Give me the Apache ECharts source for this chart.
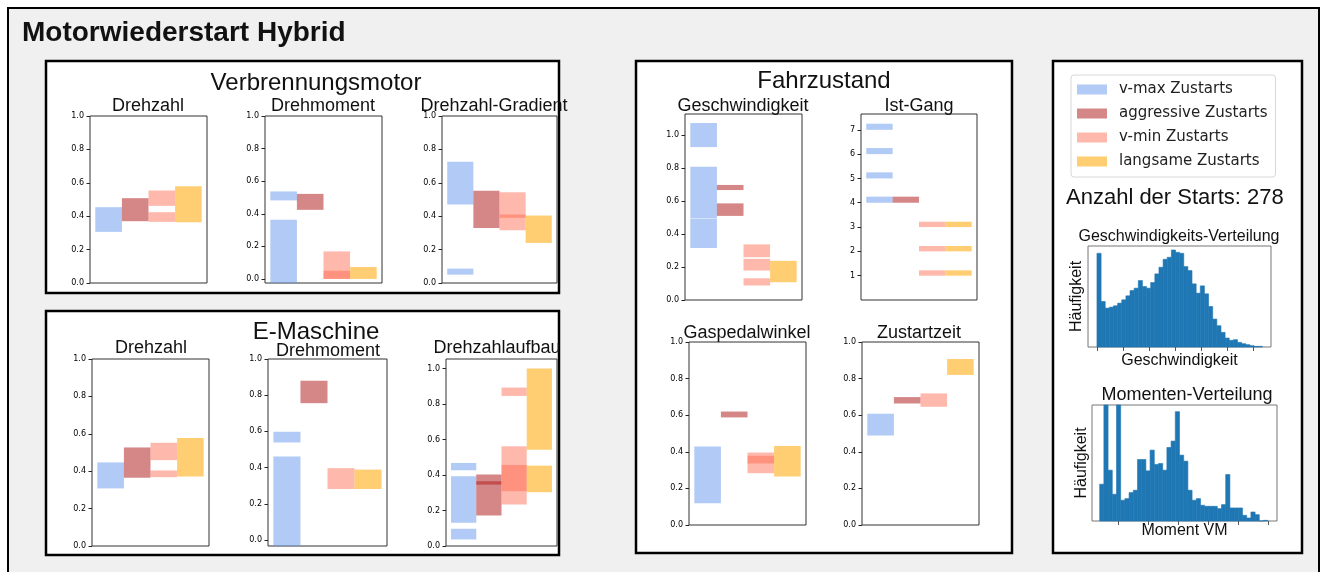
<!DOCTYPE html>
<html><head><meta charset="utf-8">
<script src="https://cdn.jsdelivr.net/npm/echarts@6/dist/echarts.min.js"></script>
<style>html,body{margin:0;padding:0;background:#fff}#c{width:1323px;height:572px}</style>
</head><body><div id="c"></div><script>
// ---------- DATA ----------
const groupNames = ['v-max Zustarts', 'aggressive Zustarts', 'v-min Zustarts', 'langsame Zustarts'];
const groupColors = ['rgba(100,149,237,0.5)', 'rgba(178,34,34,0.55)', 'rgba(255,99,71,0.45)', 'rgba(255,165,0,0.55)'];

// each subplot: one list of [low, high] ranges per group (v-max, aggressive, v-min, langsame)
const vmDrehzahl   = [[[0.306,0.454]], [[0.37,0.508]], [[0.462,0.554],[0.366,0.424]], [[0.364,0.58]]];
const vmDrehmoment = [[[0.482,0.537],[-0.025,0.363]], [[0.424,0.522]], [[0,0.169],[0,0.05]], [[0,0.073]]];
const vmGradient   = [[[0.47,0.726],[0.05,0.086]], [[0.33,0.552]], [[0.316,0.544],[0.39,0.41]], [[0.24,0.404]]];
const emDrehzahl   = [[[0.308,0.447]], [[0.365,0.527]], [[0.459,0.552],[0.368,0.404]], [[0.372,0.577]]];
const emDrehmoment = [[[0.539,0.598],[-0.033,0.461]], [[0.756,0.88]], [[0.282,0.397]], [[0.282,0.389]]];
const emAufbau     = [[[0.427,0.468],[0.131,0.393],[0.037,0.097]], [[0.172,0.403],[0.346,0.365]], [[0.846,0.893],[0.234,0.562],[0.309,0.457]], [[0.543,1.0],[0.303,0.453]]];
const fzSpeed      = [[[0.929,1.075],[0.497,0.81],[0.316,0.494]], [[0.668,0.699],[0.511,0.587]], [[0.26,0.338],[0.179,0.25],[0.088,0.132]], [[0.108,0.238]]];
const fzGear       = [[[4,4.25],[5,5.25],[6,6.25],[7,7.25]], [[4,4.25]], [[1,1.22],[2,2.22],[3,3.22]], [[1,1.22],[2,2.22],[3,3.22]]];
const fzPedal      = [[[0.119,0.429]], [[0.588,0.62]], [[0.283,0.396],[0.336,0.378]], [[0.265,0.432]]];
const fzTime       = [[[0.489,0.608]], [[0.664,0.699]], [[0.646,0.719]], [[0.82,0.907]]];

const unitTicks = [0, 0.2, 0.4, 0.6, 0.8, 1.0];
const gearTicks = [1, 2, 3, 4, 5, 6, 7];

// histograms (counts, arbitrary units)
const speedCounts = [282,137,117,120,124,132,142,154,170,177,200,182,177,194,220,240,264,270,292,285,282,242,230,190,162,184,160,122,84,64,44,27,20,22,14,10,7,4,2,2];
const speedBinStart = 0, speedBinWidth = 3.18;
const speedTicks = [0, 20, 40, 60, 80, 100, 120];
const momentCounts = [110,420,152,80,420,62,67,85,92,184,184,150,212,169,172,152,220,239,327,197,179,92,62,67,47,44,44,44,37,49,139,39,39,39,17,9,27,19,0,2];
const momentBinStart = -30.5, momentBinWidth = 7.0;
const momentTicks = [0, 50, 100, 150, 200, 250];

// ---------- LAYOUT ----------
const fmt1 = v => v.toFixed(1);
const fmtInt = v => String(Math.round(v));
const subplots = [
  {data: vmDrehzahl,   box: [90, 116, 117, 167],  y: [0, 1.0],      ticks: unitTicks, fmt: fmt1},
  {data: vmDrehmoment, box: [265, 116, 117, 167], y: [-0.025, 1.0], ticks: unitTicks, fmt: fmt1},
  {data: vmGradient,   box: [442, 116, 115, 167], y: [0, 1.0],      ticks: unitTicks, fmt: fmt1},
  {data: emDrehzahl,   box: [92, 359, 117, 187],  y: [0, 1.0],      ticks: unitTicks, fmt: fmt1},
  {data: emDrehmoment, box: [268, 359, 119, 187], y: [-0.033, 1.0], ticks: unitTicks, fmt: fmt1},
  {data: emAufbau,     box: [446, 359, 111, 187], y: [0, 1.054],    ticks: unitTicks, fmt: fmt1},
  {data: fzSpeed,      box: [685, 114, 117, 186], y: [0, 1.13],     ticks: unitTicks, fmt: fmt1},
  {data: fzGear,       box: [861, 114, 116, 186], y: [0, 7.65],     ticks: gearTicks, fmt: fmtInt},
  {data: fzPedal,      box: [689, 342, 117, 183], y: [0, 1.0],      ticks: unitTicks, fmt: fmt1},
  {data: fzTime,       box: [862, 342, 117, 183], y: [0, 1.0],      ticks: unitTicks, fmt: fmt1}
];

function clippedRect(params, api, x0, x1, y0, y1) {
  const a = api.coord([x0, y1]), b = api.coord([x1, y0]);
  const cs = params.coordSys;
  return echarts.graphic.clipRectByRect(
    {x: a[0], y: a[1], width: b[0] - a[0], height: b[1] - a[1]},
    {x: cs.x, y: cs.y, width: cs.width, height: cs.height});
}
function rangeRender(params, api) {
  const x = api.value(0);
  const shape = clippedRect(params, api, x - 0.5, x + 0.5, api.value(1), api.value(2));
  return shape && {type: 'rect', shape: shape, style: {fill: api.visual('color')}};
}
function histRender(params, api) {
  const shape = clippedRect(params, api, api.value(0), api.value(1), 0, api.value(2));
  return shape && {type: 'rect', shape: shape, style: {fill: '#1f77b4', stroke: '#1f77b4', lineWidth: 0.6}};
}

const grids = [], xAxes = [], yAxes = [], series = [];
subplots.forEach((sp, i) => {
  grids.push({left: sp.box[0], top: sp.box[1], width: sp.box[2], height: sp.box[3],
    show: true, borderColor: '#333', borderWidth: 1, backgroundColor: 'rgba(0,0,0,0)'});
  xAxes.push({gridIndex: i, type: 'value', min: -0.7, max: 3.7, position: 'bottom',
    axisLine: {show: false, onZero: false}, axisTick: {show: false}, axisLabel: {show: false}, splitLine: {show: false}});
  yAxes.push({gridIndex: i, type: 'value', min: sp.y[0], max: sp.y[1], position: 'left',
    axisLine: {show: false, onZero: false}, splitLine: {show: false},
    axisTick: {show: true, length: 3.5, customValues: sp.ticks, lineStyle: {color: '#222'}},
    axisLabel: {customValues: sp.ticks, fontSize: 8, fontFamily: 'DejaVu Sans', color: '#000', margin: 6, formatter: sp.fmt}});
  sp.data.forEach((ranges, g) => {
    series.push({type: 'custom', name: groupNames[g], xAxisIndex: i, yAxisIndex: i,
      itemStyle: {color: groupColors[g]}, encode: {x: 0, y: [1, 2]},
      data: ranges.map(r => [g, r[0], r[1]]), renderItem: rangeRender});
  });
});

const hists = [
  {counts: speedCounts, start: speedBinStart, width: speedBinWidth, ticks: speedTicks,
   box: [1088, 246, 183, 101], x: [-6.9, 133.9], y: [0, 304], xName: 'Geschwindigkeit', xGap: 6, yGap: 3},
  {counts: momentCounts, start: momentBinStart, width: momentBinWidth, ticks: momentTicks,
   box: [1092, 405, 185, 116], x: [-43.3, 265], y: [0, 347], xName: 'Moment VM', xGap: 2, yGap: 2}
];
hists.forEach(h => {
  const i = grids.length;
  grids.push({left: h.box[0], top: h.box[1], width: h.box[2], height: h.box[3],
    show: true, borderColor: '#777', borderWidth: 1, backgroundColor: 'rgba(0,0,0,0)'});
  xAxes.push({gridIndex: i, type: 'value', min: h.x[0], max: h.x[1], position: 'bottom',
    name: h.xName, nameLocation: 'middle', nameGap: h.xGap,
    nameTextStyle: {fontFamily: 'Liberation Sans', fontSize: 16, color: '#111'},
    axisLine: {show: false, onZero: false}, splitLine: {show: false}, axisLabel: {show: false},
    axisTick: {show: true, length: 4, customValues: h.ticks, lineStyle: {color: '#555'}}});
  yAxes.push({gridIndex: i, type: 'value', min: h.y[0], max: h.y[1], position: 'left',
    name: 'Häufigkeit', nameLocation: 'middle', nameGap: h.yGap, nameRotate: 90,
    nameTextStyle: {fontFamily: 'Liberation Sans', fontSize: 16, color: '#111'},
    axisLine: {show: false, onZero: false}, splitLine: {show: false}, axisLabel: {show: false}, axisTick: {show: false}});
  series.push({type: 'custom', xAxisIndex: i, yAxisIndex: i, encode: {x: [0, 1], y: 2},
    data: h.counts.map((c, k) => [h.start + k * h.width, h.start + (k + 1) * h.width, c]),
    renderItem: histRender});
});

function txt(text, x, y, size, opts) {
  opts = opts || {};
  return {type: 'text', z: 100, x: x, y: y, rotation: opts.rot || 0,
    style: {text: text, x: 0, y: 0, textAlign: opts.align || 'center', textVerticalAlign: 'middle',
      font: (opts.bold ? 'bold ' : '') + size + 'px "Liberation Sans", Arial, sans-serif', fill: '#111'}};
}
function panel(x, y, w, h) {
  return {type: 'rect', z: -10, shape: {x: x, y: y, width: w, height: h},
    style: {fill: '#fff', stroke: '#000', lineWidth: 2.5}};
}

const graphics = [
  {type: 'rect', z: -20, shape: {x: 8, y: 8, width: 1311, height: 590}, style: {fill: '#f0f0f0', stroke: '#000', lineWidth: 2}},
  panel(46, 61, 513, 232), panel(46, 311, 513, 244), panel(636, 61, 376, 492), panel(1053, 61, 249, 492),
  txt('Motorwiederstart Hybrid', 22, 33, 28, {align: 'left', bold: true}),
  txt('Verbrennungsmotor', 316, 83, 24),
  txt('Drehzahl', 148, 106, 18), txt('Drehmoment', 323, 106, 18), txt('Drehzahl-Gradient', 494, 106, 18),
  txt('E-Maschine', 316, 332, 24),
  txt('Drehzahl', 151, 348, 18), txt('Drehmoment', 328, 351, 18), txt('Drehzahlaufbau', 497, 348, 18),
  txt('Fahrzustand', 824, 81, 24),
  txt('Geschwindigkeit', 743, 106, 18), txt('Ist-Gang', 919, 106, 18),
  txt('Gaspedalwinkel', 747, 333, 18), txt('Zustartzeit', 919, 333, 18),
  txt('Anzahl der Starts: 278', 1066, 198, 22, {align: 'left'}),
  txt('Geschwindigkeits-Verteilung', 1179, 237, 16), txt('Momenten-Verteilung', 1187, 395, 18)
];

const chart = echarts.init(document.getElementById('c'), null, {renderer: 'canvas', width: 1323, height: 572});
chart.setOption({
  animation: false,
  backgroundColor: '#fff',
  grid: grids, xAxis: xAxes, yAxis: yAxes, series: series,
  graphic: graphics,
  legend: {orient: 'vertical', left: 1071, top: 75, data: groupNames, icon: 'rect', selectedMode: false,
    itemWidth: 30, itemHeight: 10, itemGap: 9, padding: [7, 8, 8, 6],
    borderColor: '#d8d8d8', borderWidth: 1, borderRadius: 3, backgroundColor: '#fff',
    textStyle: {fontFamily: 'DejaVu Sans', fontSize: 15, color: '#222', padding: [0, 0, 0, 7]}}
});
</script></body></html>
